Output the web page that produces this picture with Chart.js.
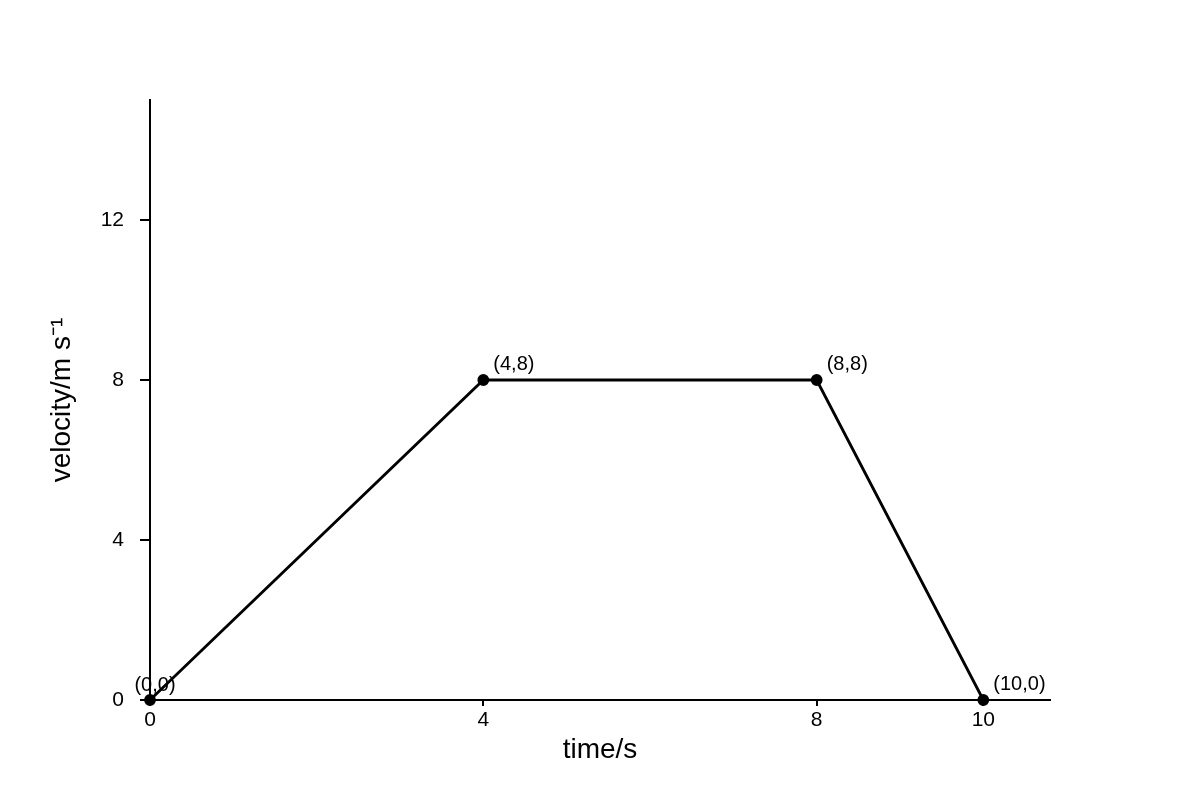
<!DOCTYPE html>
<html>
<head>
<meta charset="utf-8">
<script src="https://cdn.jsdelivr.net/npm/chart.js@4.4.0/dist/chart.umd.min.js"></script>
<style>
  html, body { margin: 0; padding: 0; background: #fff; }
  #wrap { width: 1200px; height: 800px; }
</style>
</head>
<body>
<div id="wrap"><canvas id="vt"></canvas></div>
<script>
// data
const timeValues = [0, 4, 8, 10];
const velocityValues = [0, 8, 8, 0];
const xTickValues = [0, 4, 8, 10];
const yTickValues = [0, 4, 8, 12];

const FONT = '"Liberation Sans", Arial, sans-serif';

// little "(x,y)" labels next to each point
const pointLabels = {
    id: 'pointLabels',
    afterDatasetsDraw(chart) {
        const ctx = chart.ctx;
        const xs = chart.scales.x, ys = chart.scales.y;
        ctx.save();
        ctx.font = '20px ' + FONT;
        ctx.fillStyle = '#000';
        ctx.textBaseline = 'alphabetic';
        timeValues.forEach((t, i) => {
            const px = xs.getPixelForValue(t);
            const py = ys.getPixelForValue(velocityValues[i]);
            const txt = '(' + t + ',' + velocityValues[i] + ')';
            if (i === 0) {
                ctx.textAlign = 'center';
                ctx.fillText(txt, px + 5, py - 9);
            } else {
                ctx.textAlign = 'left';
                ctx.fillText(txt, px + 10, py - 10);
            }
        });
        ctx.restore();
    }
};

new Chart(document.getElementById('vt').getContext('2d'), {
    type: 'scatter',
    data: {
        datasets: [{
            data: timeValues.map((t, i) => ({ x: t, y: velocityValues[i] })),
            showLine: true,
            borderColor: '#000',
            borderWidth: 2.8,
            backgroundColor: '#000',
            pointRadius: 4.5,
            pointHoverRadius: 4.5,
            clip: false
        }]
    },
    options: {
        responsive: true,
        maintainAspectRatio: false,
        animation: false,
        layout: { padding: { top: 100, right: 150, left: 0, bottom: 0 } },
        plugins: { legend: { display: false }, tooltip: { enabled: false } },
        scales: {
            x: {
                type: 'linear',
                min: 0,
                max: 10.8,
                afterBuildTicks: s => { s.ticks = xTickValues.map(v => ({ value: v })); },
                afterFit: s => { s.height = 100; },
                border: { display: true, color: '#000', width: 2 },
                grid: { display: true, drawOnChartArea: false, color: '#000', lineWidth: 2, tickLength: 6 },
                ticks: { color: '#000', font: { family: FONT, size: 21 }, padding: 2, maxRotation: 0, autoSkip: false },
                title: { display: true, text: 'time/s', color: '#000', font: { family: FONT, size: 28 }, padding: { top: 0, bottom: 33 } }
            },
            y: {
                type: 'linear',
                min: 0,
                max: 15,
                afterBuildTicks: s => { s.ticks = yTickValues.map(v => ({ value: v })); },
                afterFit: s => { s.width = 150; },
                border: { display: true, color: '#000', width: 2 },
                grid: { display: true, drawOnChartArea: false, color: '#000', lineWidth: 2, tickLength: 10 },
                ticks: { color: '#000', font: { family: FONT, size: 21 }, padding: 16, autoSkip: false },
                title: { display: true, text: 'velocity/m s\u207B\u00B9', color: '#000', font: { family: FONT, size: 28 }, padding: { top: 45, bottom: 0 } }
            }
        }
    },
    plugins: [pointLabels]
});
</script>
</body>
</html>
